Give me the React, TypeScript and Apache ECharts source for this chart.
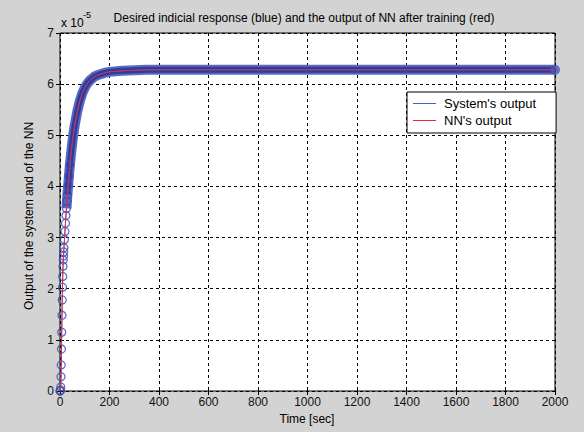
import React, { useEffect, useRef } from "react";
import * as echarts from "echarts";

// Time axis of the samples (seconds)
const timeSec = [
  0, 1, 2, 3, 4, 5, 6, 7, 8, 9, 10, 11, 12, 13, 14, 15, 16,
  18, 20, 22, 24, 26, 28, 30,
  33, 36, 40, 45, 50, 55, 60,
  70, 80, 90, 100, 110, 120,
  140, 160, 180, 200,
  250, 300, 350, 400,
  500, 600, 700, 800, 900, 1000, 1100, 1200, 1300, 1400, 1500, 1600, 1700, 1800, 1900, 2000,
];
// System's output (units of 1e-5)
const systemOut = [
  0, 0, 0.02, 0.08, 0.28, 0.51, 0.82, 1.15, 1.48, 1.78, 2.03, 2.24, 2.44, 2.56, 2.64, 2.72, 2.8,
  2.96, 3.12, 3.28, 3.43, 3.57, 3.71, 3.84,
  4.02, 4.2, 4.42, 4.66, 4.87, 5.05, 5.21,
  5.47, 5.67, 5.82, 5.93, 6.01, 6.07,
  6.15, 6.19, 6.22, 6.24,
  6.26, 6.27, 6.28, 6.28,
  6.28, 6.28, 6.28, 6.28, 6.28, 6.28, 6.28, 6.28, 6.28, 6.28, 6.28, 6.28, 6.28, 6.28, 6.28, 6.28,
];
// NN's output (units of 1e-5)
const nnOut = [
  0, 0, 0.02, 0.08, 0.28, 0.51, 0.82, 1.15, 1.48, 1.78, 2.03, 2.24, 2.44, 2.56, 2.64, 2.72, 2.8,
  2.96, 3.12, 3.28, 3.43, 3.57, 3.71, 3.84,
  4.02, 4.2, 4.42, 4.66, 4.87, 5.05, 5.21,
  5.47, 5.67, 5.82, 5.93, 6.01, 6.07,
  6.15, 6.19, 6.22, 6.24,
  6.26, 6.27, 6.28, 6.28,
  6.28, 6.28, 6.28, 6.28, 6.28, 6.28, 6.28, 6.28, 6.28, 6.28, 6.28, 6.28, 6.28, 6.28, 6.28, 6.28,
];

const titleText = "Desired indicial response (blue) and the output of NN after training (red)";
const xName = "Time [sec]";
const yName = "Output of the system and of the NN";
const seriesNames = ["System's output", "NN's output"];

const FONT = "'Liberation Sans', Arial, sans-serif";

export default function App() {
  const ref = useRef<HTMLDivElement>(null);
  useEffect(() => {
    document.body.style.margin = "0";
    if (!ref.current) return;
    const chart = echarts.init(ref.current, undefined, { renderer: "svg" });
    const sys = timeSec.map((t, i) => [t, systemOut[i]]);
    const nn = timeSec.map((t, i) => [t, nnOut[i]]);
    const bandOuter = sys.filter((p) => p[0] >= 26);
    const bandInner = sys.filter((p) => p[0] >= 30);
    const marks = sys.filter((p) => p[0] <= 40);
    const endMark = sys.filter((p) => p[0] === 2000);

    const option: any = {
      animation: false,
      backgroundColor: "#d3d3d3",
      textStyle: { fontFamily: FONT },
      grid: {
        left: 60,
        right: 29,
        top: 33,
        bottom: 41,
        show: true,
        backgroundColor: "#ffffff",
        borderColor: "#000000",
        borderWidth: 1,
      },
      xAxis: [
        {
          type: "value",
          min: 0,
          max: 2000,
          interval: 200,
          axisLine: { show: false },
          axisTick: { show: true, inside: true, length: 4, lineStyle: { color: "#000" } },
          axisLabel: {
            color: "#111",
            fontSize: 12,
            fontFamily: FONT,
            margin: 5,
            formatter: (v: number) => String(v),
          },
          splitLine: { show: true, lineStyle: { color: "#000", type: [3, 3], width: 1 } },
        },
        {
          type: "value",
          position: "top",
          min: 0,
          max: 2000,
          interval: 200,
          axisLine: { show: false },
          axisTick: { show: true, inside: true, length: 4, lineStyle: { color: "#000" } },
          axisLabel: { show: false },
          splitLine: { show: false },
        },
      ],
      yAxis: [
        {
          type: "value",
          min: 0,
          max: 7,
          interval: 1,
          axisLine: { show: false },
          axisTick: { show: true, inside: true, length: 4, lineStyle: { color: "#000" } },
          axisLabel: { color: "#111", fontSize: 12, fontFamily: FONT, margin: 6 },
          splitLine: { show: true, lineStyle: { color: "#000", type: [3, 3], width: 1 } },
        },
        {
          type: "value",
          position: "right",
          min: 0,
          max: 7,
          interval: 1,
          axisLine: { show: false },
          axisTick: { show: true, inside: true, length: 4, lineStyle: { color: "#000" } },
          axisLabel: { show: false },
          splitLine: { show: false },
        },
      ],
      legend: {
        data: seriesNames,
        orient: "vertical",
        left: 407,
        top: 92,
        padding: [4, 20, 5, 6],
        itemGap: 2,
        itemWidth: 23,
        itemHeight: 1,
        icon: "rect",
        backgroundColor: "#ffffff",
        borderColor: "#000000",
        borderWidth: 1,
        borderRadius: 0,
        textStyle: { color: "#000", fontSize: 13, fontFamily: FONT, lineHeight: 15, padding: [0, 0, 0, 3] },
      },
      series: [
        {
          name: "bandOuter",
          type: "line",
          data: bandOuter,
          symbol: "none",
          clip: false,
          lineStyle: { color: "#5a69c2", width: 10, cap: "butt", join: "round" },
          silent: true,
          z: 2,
        },
        {
          name: "bandInner",
          type: "line",
          data: bandInner,
          symbol: "none",
          clip: false,
          lineStyle: { color: "#2e3c9c", width: 6, cap: "butt", join: "round" },
          silent: true,
          z: 3,
        },
        {
          name: "endCap",
          type: "scatter",
          data: endMark,
          symbol: "circle",
          symbolSize: 10,
          clip: false,
          itemStyle: { color: "#4555b6" },
          silent: true,
          z: 3,
        },
        {
          name: "markers",
          type: "scatter",
          data: marks,
          symbol: "circle",
          symbolSize: 8,
          clip: false,
          itemStyle: { color: "rgba(0,0,0,0)", borderColor: "#3b4bb2", borderWidth: 1.3 },
          z: 4,
        },
        {
          name: seriesNames[0],
          type: "line",
          data: sys,
          symbol: "none",
          color: "#4b5bc8",
          lineStyle: { color: "#4b5bc8", width: 1 },
          z: 5,
        },
        {
          name: seriesNames[1],
          type: "line",
          data: nn,
          symbol: "none",
          color: "#dc2c44",
          lineStyle: { color: "#dc2c44", width: 1 },
          z: 6,
        },
      ],
      graphic: [
        {
          type: "text",
          x: 304,
          y: 18,
          style: {
            text: titleText,
            fill: "#000",
            font: `12px ${FONT}`,
            textAlign: "center",
            textVerticalAlign: "middle",
          },
        },
        {
          type: "text",
          x: 61,
          y: 23,
          style: {
            text: "x 10",
            fill: "#000",
            font: `12px ${FONT}`,
            textAlign: "left",
            textVerticalAlign: "middle",
          },
        },
        {
          type: "text",
          x: 83,
          y: 15,
          style: {
            text: "-5",
            fill: "#000",
            font: `9px ${FONT}`,
            textAlign: "left",
            textVerticalAlign: "middle",
          },
        },
        {
          type: "text",
          x: 307,
          y: 419,
          style: {
            text: xName,
            fill: "#000",
            font: `12px ${FONT}`,
            textAlign: "center",
            textVerticalAlign: "middle",
          },
        },
        {
          type: "text",
          x: 29,
          y: 216,
          rotation: Math.PI / 2,
          style: {
            text: yName,
            fill: "#000",
            font: `12px ${FONT}`,
            textAlign: "center",
            textVerticalAlign: "middle",
          },
        },
      ],
    };
    chart.setOption(option);
    return () => chart.dispose();
  }, []);
  return <div ref={ref} style={{ width: 584, height: 432 }} />;
}
